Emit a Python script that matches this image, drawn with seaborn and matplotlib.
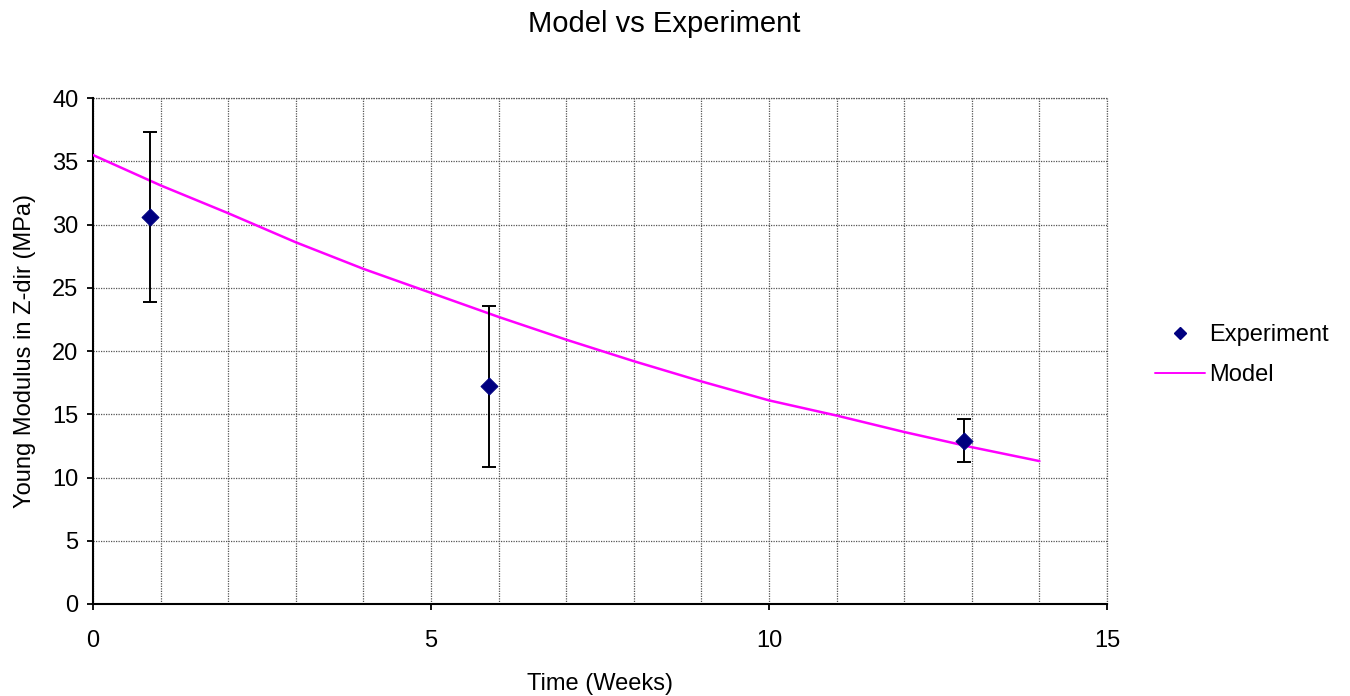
import numpy as np
import pandas as pd
import matplotlib
matplotlib.use("Agg")
import matplotlib.pyplot as plt
from matplotlib.ticker import MultipleLocator
from matplotlib.lines import Line2D
import seaborn as sns

# Experimental data
exp_time = [0.85, 5.86, 12.88]
exp_modulus = [30.6, 17.2, 12.9]
exp_error = [6.75, 6.4, 1.7]

# Model curve
model_time = [0, 1, 2, 3, 4, 5, 6, 7, 8, 9, 10, 11, 12, 13, 14]
model_modulus = [35.5, 33.1, 30.9, 28.6, 26.5, 24.6, 22.7, 20.9, 19.2, 17.6,
                 16.1, 14.9, 13.6, 12.4, 11.3]

sns.set_style("white")
plt.rcParams['font.family'] = ['Liberation Sans', 'DejaVu Sans']
plt.rcParams['text.color'] = 'black'
plt.rcParams['axes.labelcolor'] = 'black'
plt.rcParams['xtick.color'] = 'black'
plt.rcParams['ytick.color'] = 'black'

FS = 17
GRID = dict(color="#555555", linestyle=(0, (1, 1)), linewidth=0.9)

fig = plt.figure(figsize=(13.5, 6.96), dpi=100)
ax = fig.add_axes([0.0689, 0.1322, 0.7511, 0.7268])

df_model = pd.DataFrame({"t": model_time, "E": model_modulus})
df_exp = pd.DataFrame({"t": exp_time, "E": exp_modulus, "err": exp_error})

sns.lineplot(data=df_model, x="t", y="E", ax=ax, color="#FF00FF", linewidth=1.8,
             zorder=3)
ax.errorbar(df_exp["t"], df_exp["E"], yerr=df_exp["err"], fmt="none",
            ecolor="black", elinewidth=1.4, capsize=4.8, capthick=1.4, zorder=4)
sns.scatterplot(data=df_exp, x="t", y="E", ax=ax, marker="D", s=75,
                color="#000080", edgecolor="#000080", zorder=5)

ax.set_xlim(0, 15)
ax.set_ylim(0, 40)
ax.xaxis.set_major_locator(MultipleLocator(5))
ax.xaxis.set_minor_locator(MultipleLocator(1))
ax.yaxis.set_major_locator(MultipleLocator(5))

ax.grid(True, which="both", axis="x", **GRID)
ax.grid(True, which="major", axis="y", **GRID)
ax.set_axisbelow(True)
# outer border gridlines (at the edge of the plot area)
ax.axvline(15, clip_on=False, zorder=0.5, **GRID)
ax.axhline(40, clip_on=False, zorder=0.5, **GRID)

for s in ["top", "right"]:
    ax.spines[s].set_visible(False)
for s in ["left", "bottom"]:
    ax.spines[s].set_color("black")
    ax.spines[s].set_linewidth(1.5)

ax.tick_params(axis="both", which="major", direction="out", length=4.5,
               width=1.3, color="black", labelsize=FS, labelcolor="black",
               left=True, bottom=True, pad=6)
ax.tick_params(axis="x", which="minor", length=0)
ax.tick_params(axis="x", which="major", pad=14)

ax.set_xlabel("Time (Weeks)", fontsize=FS, labelpad=15, color="black")
ax.set_ylabel("Young Modulus in Z-dir (MPa)", fontsize=FS, labelpad=12,
              color="black")
fig.text(0.492, 0.954, "Model vs Experiment", fontsize=21, ha="center",
         va="baseline", color="black")

handles = [
    Line2D([], [], marker="D", linestyle="none", color="#000080",
           markersize=6.5),
    Line2D([], [], color="#FF00FF", linewidth=1.4),
]
fig.legend(handles, ["Experiment", "Model"], loc="center left",
           bbox_to_anchor=(0.840, 0.49), frameon=False, fontsize=FS,
           handlelength=2.1, handletextpad=0.2, labelspacing=0.75)

fig.savefig("out.png", dpi=100)
